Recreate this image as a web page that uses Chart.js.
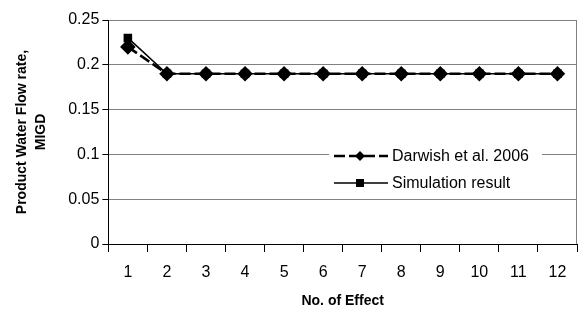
<!DOCTYPE html>
<html>
<head>
<meta charset="utf-8">
<script src="https://cdn.jsdelivr.net/npm/chart.js@4.4.0/dist/chart.umd.min.js"></script>
<style>
  html, body { margin: 0; padding: 0; background: #fff; }
  canvas { display: block; }
</style>
</head>
<body>
<canvas id="chart" width="578" height="313"></canvas>
<script>
const effects = ['1', '2', '3', '4', '5', '6', '7', '8', '9', '10', '11', '12'];
const darwish = [0.22, 0.19, 0.19, 0.19, 0.19, 0.19, 0.19, 0.19, 0.19, 0.19, 0.19, 0.19];
const simulation = [0.23, 0.19, 0.19, 0.19, 0.19, 0.19, 0.19, 0.19, 0.19, 0.19, 0.19, 0.19];
const y_step = 0.05;

const font_name = "'Liberation Sans', Arial, sans-serif";

// legend drawn inside the plot, on a white box
const inner_legend = {
  id: 'inner_legend',
  afterDatasetsDraw(chart) {
    const ctx = chart.ctx;
    const area = chart.chartArea;
    ctx.save();
    // right border of the plot
    ctx.strokeStyle = '#808080';
    ctx.lineWidth = 1;
    ctx.beginPath();
    ctx.moveTo(area.right - 0.5, area.top);
    ctx.lineTo(area.right - 0.5, area.bottom);
    ctx.stroke();

    const x0 = 329, y0 = 142, w = 213, h = 54;
    ctx.fillStyle = '#fff';
    ctx.fillRect(x0, y0, w, h);
    chart.data.datasets.forEach((ds, i) => {
      const cy = 156 + i * 27;
      ctx.strokeStyle = '#000';
      ctx.lineWidth = ds.borderWidth;
      ctx.setLineDash(ds.borderDash || []);
      ctx.beginPath();
      ctx.moveTo(334, cy);
      ctx.lineTo(388, cy);
      ctx.stroke();
      ctx.setLineDash([]);
      ctx.fillStyle = '#000';
      const mx = 360;
      if (ds.pointStyle === 'rectRot') {
        ctx.beginPath();
        ctx.moveTo(mx, cy - 5);
        ctx.lineTo(mx + 5, cy);
        ctx.lineTo(mx, cy + 5);
        ctx.lineTo(mx - 5, cy);
        ctx.closePath();
        ctx.fill();
      } else {
        ctx.fillRect(mx - 4, cy - 4, 8, 8);
      }
      ctx.font = '16px ' + font_name;
      ctx.textBaseline = 'middle';
      ctx.fillText(ds.label, 392, cy + 1);
    });
    ctx.restore();
  }
};

new Chart(document.getElementById('chart'), {
  type: 'line',
  data: {
    labels: effects,
    datasets: [{
      label: 'Darwish et al. 2006',
      data: darwish,
      borderColor: '#000',
      backgroundColor: '#000',
      borderWidth: 2.5,
      borderDash: [11, 4],
      pointStyle: 'rectRot',
      pointRadius: 6,
      tension: 0
    }, {
      label: 'Simulation result',
      data: simulation,
      borderColor: '#000',
      backgroundColor: '#000',
      borderWidth: 1.5,
      pointStyle: 'rect',
      pointRadius: 5,
      tension: 0
    }]
  },
  options: {
    responsive: false,
    animation: false,
    layout: { autoPadding: false, padding: { top: 20, right: 1, left: 12, bottom: 3 } },
    plugins: {
      legend: { display: false },
      tooltip: { enabled: false }
    },
    scales: {
      x: {
        offset: true,
        grid: {
          offset: true,
          drawOnChartArea: false,
          drawTicks: true,
          tickLength: 8,
          color: '#000'
        },
        border: { color: '#000' },
        ticks: {
          color: '#000',
          font: { family: font_name, size: 16 },
          padding: 11,
          autoSkip: false,
          maxRotation: 0
        },
        title: {
          display: true,
          text: 'No. of Effect',
          color: '#000',
          font: { family: font_name, size: 14, weight: 'bold' },
          padding: { top: 0, bottom: 0 }
        }
      },
      y: {
        min: 0,
        max: 0.25,
        grid: {
          color: ctx => ctx.tick && ctx.tick.value === 0 ? '#000' : '#808080',
          tickColor: '#000',
          tickLength: 6
        },
        border: { color: '#000' },
        ticks: {
          stepSize: y_step,
          color: '#000',
          font: { family: font_name, size: 16 },
          padding: 3,
          callback: v => String(+v.toFixed(2))
        },
        title: {
          display: true,
          text: ['Product Water Flow rate,', 'MIGD'],
          color: '#000',
          font: { family: font_name, size: 14, weight: 'bold', lineHeight: 1.4 },
          padding: { top: 0, bottom: 14 }
        }
      }
    }
  },
  plugins: [inner_legend]
});
</script>
</body>
</html>
